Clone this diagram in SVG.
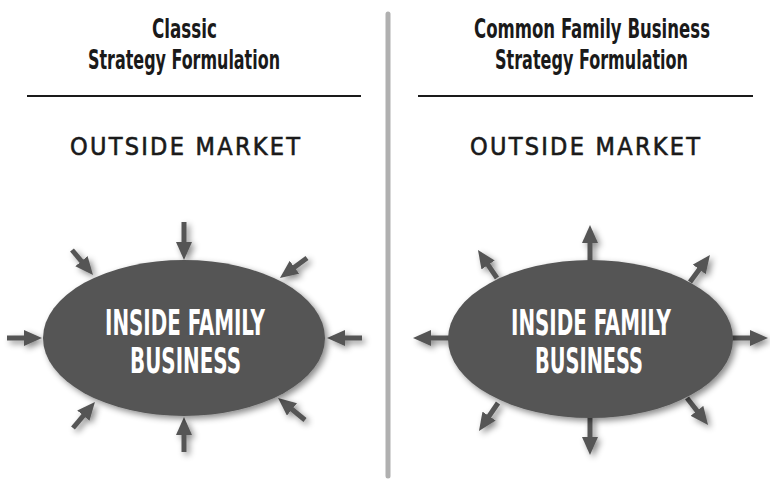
<svg xmlns="http://www.w3.org/2000/svg" width="770" height="481" viewBox="0 0 770 481">
<style>
.head{font-family:"Liberation Sans Narrow","DejaVu Sans Condensed","Liberation Sans",sans-serif;font-weight:bold;font-size:27px;fill:#1a1a1a;text-anchor:middle}
.mkt{font-family:"Liberation Sans Narrow","DejaVu Sans Condensed","Liberation Sans",sans-serif;font-size:25px;fill:#1a1a1a;stroke:#1a1a1a;stroke-width:0.6;text-anchor:middle}
.inner{font-family:"Liberation Sans Narrow","DejaVu Sans Condensed","Liberation Sans",sans-serif;font-weight:bold;font-size:35px;fill:#ffffff;text-anchor:middle}
.rule{stroke:#1a1a1a;stroke-width:2}
.ell{fill:#555555;filter:url(#sh)}
.arr{stroke:#555555;stroke-width:5;fill:none;marker-end:url(#ah);filter:url(#sh)}
</style>
<defs>
<filter id="sh" filterUnits="userSpaceOnUse" x="0" y="0" width="770" height="481">
<feDropShadow dx="3" dy="3" stdDeviation="3" flood-color="#000" flood-opacity="0.45"/>
</filter>
<marker id="ah" viewBox="0 0 18 16" refX="8" refY="8" markerWidth="18" markerHeight="16" markerUnits="userSpaceOnUse" orient="auto">
<path d="M0,0 L18,8 L0,16 z" fill="#555555"/>
</marker>
</defs>
<rect width="770" height="481" fill="#ffffff"/>
<line x1="388" y1="14" x2="388" y2="476" stroke="#b0b0b0" stroke-width="5" stroke-linecap="round"/>
<g id="title-left">
<text class="head" x="184.5" y="38" textLength="65" lengthAdjust="spacingAndGlyphs">Classic</text>
<text class="head" x="184" y="69" textLength="192" lengthAdjust="spacingAndGlyphs">Strategy Formulation</text>
<line class="rule" x1="27" y1="96" x2="361" y2="96"/>
<text class="mkt" x="185" y="155" textLength="230" lengthAdjust="spacing">OUTSIDE MARKET</text>
</g>
<g id="title-right">
<text class="head" x="592" y="38" textLength="236" lengthAdjust="spacingAndGlyphs">Common Family Business</text>
<text class="head" x="591.5" y="69" textLength="193" lengthAdjust="spacingAndGlyphs">Strategy Formulation</text>
<line class="rule" x1="418" y1="96" x2="753" y2="96"/>
<text class="mkt" x="585" y="155" textLength="230" lengthAdjust="spacing">OUTSIDE MARKET</text>
</g>
<g id="connectors">
<line class="arr" x1="184" y1="222" x2="184" y2="250"/>
<line class="arr" x1="184" y1="452" x2="184" y2="427"/>
<line class="arr" x1="7" y1="338" x2="32" y2="338"/>
<line class="arr" x1="362" y1="338" x2="337" y2="338"/>
<line class="arr" x1="72" y1="250" x2="86.6" y2="267.3"/>
<line class="arr" x1="307" y1="258" x2="288" y2="272"/>
<line class="arr" x1="73" y1="428" x2="88.5" y2="409.6"/>
<line class="arr" x1="305" y1="420" x2="285.8" y2="404.3"/>
<line class="arr" x1="590" y1="262" x2="590" y2="235"/>
<line class="arr" x1="590" y1="416" x2="590" y2="445"/>
<line class="arr" x1="450" y1="338" x2="423" y2="338"/>
<line class="arr" x1="731" y1="338" x2="758" y2="338"/>
<line class="arr" x1="497" y1="278" x2="483.6" y2="258.3"/>
<line class="arr" x1="690" y1="282" x2="704" y2="263"/>
<line class="arr" x1="498" y1="403" x2="484.6" y2="422.7"/>
<line class="arr" x1="687" y1="398" x2="701.9" y2="417.1"/>
</g>
<g id="node-left">
<ellipse class="ell" cx="184" cy="338" rx="141" ry="78"/>
<text class="inner" x="185" y="335" textLength="160" lengthAdjust="spacingAndGlyphs">INSIDE FAMILY</text>
<text class="inner" x="185.5" y="373" textLength="111" lengthAdjust="spacingAndGlyphs">BUSINESS</text>
</g>
<g id="node-right">
<ellipse class="ell" cx="590.5" cy="339" rx="142.5" ry="79"/>
<text class="inner" x="591" y="335" textLength="160" lengthAdjust="spacingAndGlyphs">INSIDE FAMILY</text>
<text class="inner" x="589" y="373" textLength="108" lengthAdjust="spacingAndGlyphs">BUSINESS</text>
</g>
</svg>
